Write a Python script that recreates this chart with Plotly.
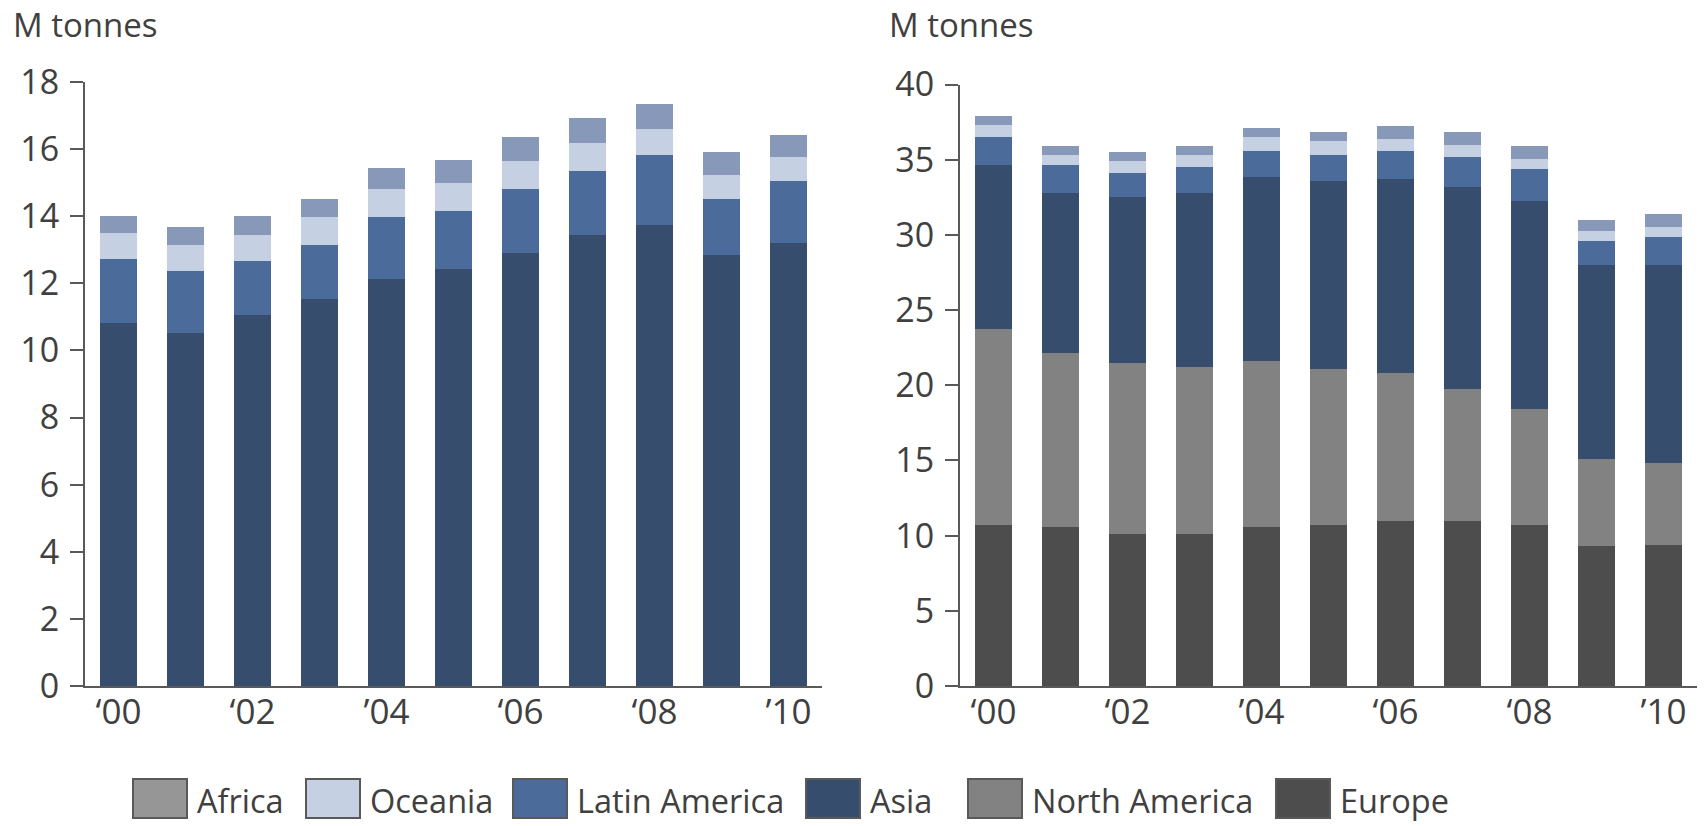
import plotly.graph_objects as go

W, H = 1705, 826

years = ["2000", "2001", "2002", "2003", "2004", "2005",
         "2006", "2007", "2008", "2009", "2010"]
tick_years = ["2000", "2002", "2004", "2006", "2008", "2010"]
tick_text = ["\u201800", "\u201802", "\u201904", "\u201806", "\u201808", "\u201910"]

# Left panel: emerging regions (M tonnes)
asia_l = [10.82, 10.52, 11.06, 11.53, 12.13, 12.43, 12.90, 13.44, 13.74, 12.84, 13.20]
latam_l = [1.90, 1.85, 1.61, 1.61, 1.85, 1.73, 1.91, 1.91, 2.08, 1.67, 1.85]
oceania_l = [0.78, 0.77, 0.77, 0.84, 0.83, 0.83, 0.84, 0.83, 0.78, 0.72, 0.71]
africa_l = [0.51, 0.54, 0.57, 0.53, 0.63, 0.69, 0.71, 0.75, 0.74, 0.68, 0.66]

# Right panel: all regions (M tonnes)
europe_r = [10.71, 10.58, 10.11, 10.11, 10.58, 10.71, 10.98, 10.98, 10.71, 9.31, 9.38]
namerica_r = [13.04, 11.58, 11.38, 11.11, 11.04, 10.38, 9.85, 8.78, 7.72, 5.79, 5.46]
asia_r = [10.91, 10.64, 11.04, 11.58, 12.25, 12.51, 12.90, 13.44, 13.84, 12.91, 13.17]
latam_r = [1.87, 1.86, 1.60, 1.73, 1.73, 1.73, 1.87, 2.00, 2.13, 1.60, 1.86]
oceania_r = [0.80, 0.67, 0.80, 0.80, 0.93, 0.93, 0.79, 0.79, 0.66, 0.66, 0.67]
africa_r = [0.59, 0.60, 0.60, 0.60, 0.60, 0.60, 0.87, 0.87, 0.87, 0.73, 0.86]

legend_names = ["Africa", "Oceania", "Latin America", "Asia", "North America", "Europe"]

C_AFRICA = "#8898b9"
C_AFRICA_KEY = "#969696"
C_OCEANIA = "#c5d0e2"
C_LATAM = "#4b6b9b"
C_ASIA = "#374d6e"
C_NAMERICA = "#828282"
C_EUROPE = "#4d4d4d"
AXIS = "#595959"
TEXT = "#404040"
FONT = "Open Sans"

fig = go.Figure()

def add_bar(x, y, color, xa, ya):
    fig.add_trace(go.Bar(x=x, y=y, marker=dict(color=color, line=dict(width=0)),
                         xaxis=xa, yaxis=ya, showlegend=False))

for vals, col in [(asia_l, C_ASIA), (latam_l, C_LATAM),
                  (oceania_l, C_OCEANIA), (africa_l, C_AFRICA)]:
    add_bar(years, vals, col, "x", "y")

for vals, col in [(europe_r, C_EUROPE), (namerica_r, C_NAMERICA), (asia_r, C_ASIA),
                  (latam_r, C_LATAM), (oceania_r, C_OCEANIA), (africa_r, C_AFRICA)]:
    add_bar(years, vals, col, "x2", "y2")

def px_x(p):
    return p / W

def px_y(p):
    return 1 - p / H

xaxis_common = dict(type="category", range=[-0.5, 10.5], showline=True, linecolor=AXIS,
                    linewidth=2, ticks="", tickmode="array", tickvals=tick_years,
                    ticktext=tick_text, showgrid=False, zeroline=False, automargin=False,
                    tickfont=dict(family=FONT, size=35, color=TEXT),
                    ticklabelstandoff=-6)
yaxis_common = dict(showline=True, linecolor=AXIS, linewidth=2, ticks="outside",
                    ticklen=13, tickwidth=2, tickcolor=AXIS, showgrid=False,
                    zeroline=False, automargin=False,
                    tickfont=dict(family=FONT, size=34, color=TEXT),
                    ticklabelstandoff=4)

fig.update_layout(
    width=W, height=H,
    margin=dict(l=0, r=0, t=0, b=0, autoexpand=False),
    paper_bgcolor="white", plot_bgcolor="white",
    barmode="stack", bargap=0.433,
    showlegend=False,
    xaxis=dict(domain=[px_x(85), px_x(822)], anchor="y", **xaxis_common),
    yaxis=dict(domain=[px_y(686), px_y(82)], anchor="x", range=[0, 18], dtick=2,
               **yaxis_common),
    xaxis2=dict(domain=[px_x(960), px_x(1697)], anchor="y2", **xaxis_common),
    yaxis2=dict(domain=[px_y(686), px_y(84.5)], anchor="x2", range=[0, 40], dtick=5,
                **yaxis_common),
)

# Unit labels above each panel
for xpos in (11, 887):
    fig.add_annotation(text="M tonnes", x=px_x(xpos), y=px_y(0), xref="paper", yref="paper",
                       xanchor="left", yanchor="top", showarrow=False,
                       font=dict(family=FONT, size=33, color=TEXT))

# Legend row: swatch boxes with labels
key_colors = [C_AFRICA_KEY, C_OCEANIA, C_LATAM, C_ASIA, C_NAMERICA, C_EUROPE]
key_x = [133, 306, 513, 806, 968, 1276]
for name, col, kx in zip(legend_names, key_colors, key_x):
    fig.add_shape(type="rect", xref="paper", yref="paper",
                  x0=px_x(kx), x1=px_x(kx + 54), y0=px_y(818), y1=px_y(779),
                  fillcolor=col, line=dict(color=AXIS, width=2))
    fig.add_annotation(text=name, x=px_x(kx + 62), y=px_y(800), xref="paper", yref="paper",
                       xanchor="left", yanchor="middle", showarrow=False,
                       font=dict(family=FONT, size=32.5, color=TEXT))

fig.write_html("out.html")
